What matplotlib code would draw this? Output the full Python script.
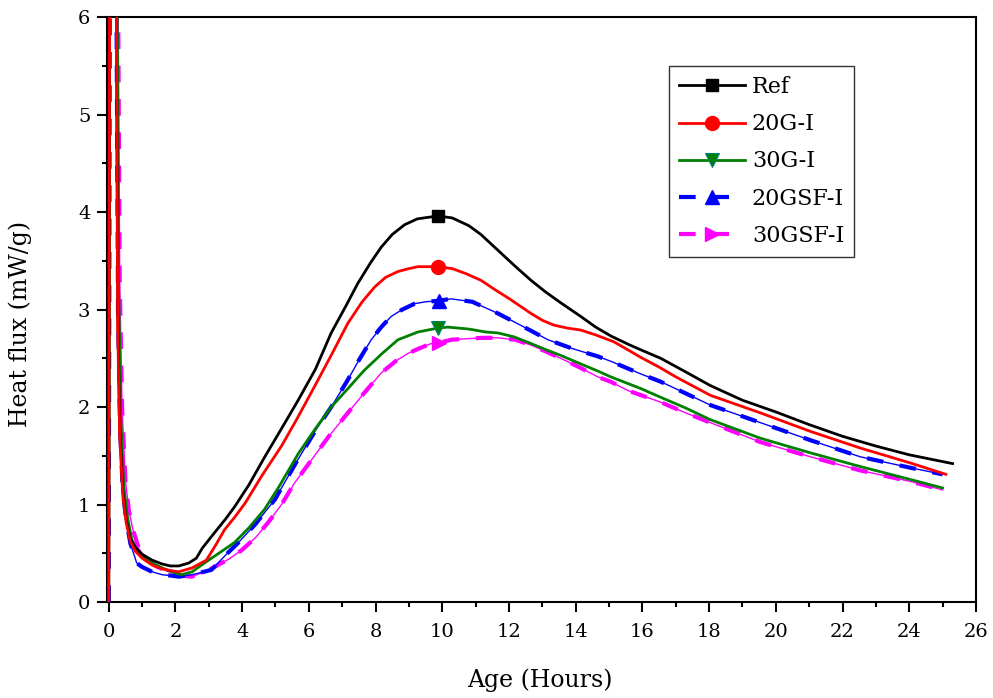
import numpy as np
import matplotlib
matplotlib.use("Agg")
from matplotlib import pyplot as plt
from matplotlib.ticker import MultipleLocator

# heat flow curves
ref_hours = [0, 0.03, 0.22, 0.27, 0.33, 0.42, 0.52, 0.65, 0.8, 1.0, 1.3, 1.6, 1.85, 2.1,
             2.4, 2.63, 2.8, 3.17, 3.5, 3.78, 4.2, 4.68, 5.2, 5.68, 6.2, 6.67, 7.1, 7.47,
             7.85, 8.17, 8.5, 8.87, 9.25, 9.66, 9.87, 10.3, 10.8, 11.16, 11.6, 12.2, 12.66,
             13.1, 13.55, 14.15, 14.6, 15.05, 15.6, 16.0, 16.55, 17.3, 18.04, 19.0, 20.0,
             21.0, 22.0, 23.0, 24.0, 25.3]
ref_flux = [0, 7, 7, 3.0, 1.8, 1.15, 0.85, 0.65, 0.56, 0.49, 0.43, 0.39, 0.37, 0.37,
            0.40, 0.45, 0.55, 0.71, 0.85, 0.98, 1.2, 1.49, 1.79, 2.07, 2.39, 2.76, 3.03, 3.27,
            3.48, 3.64, 3.77, 3.87, 3.93, 3.95, 3.96, 3.94, 3.86, 3.77, 3.63, 3.44, 3.30,
            3.18, 3.07, 2.93, 2.82, 2.73, 2.64, 2.58, 2.50, 2.36, 2.22, 2.07, 1.95,
            1.82, 1.70, 1.60, 1.51, 1.42]

g20_hours = [0, 0.03, 0.22, 0.27, 0.33, 0.42, 0.52, 0.65, 0.8, 1.0, 1.3, 1.6, 1.9, 2.1,
             2.5, 2.93, 3.2, 3.47, 3.8, 4.1, 4.6, 5.18, 5.63, 6.17, 6.7, 7.17, 7.6, 7.97,
             8.3, 8.67, 9.0, 9.27, 9.6, 9.87, 10.3, 10.7, 11.16, 11.6, 12.06, 12.66, 13.0,
             13.35, 13.75, 14.15, 14.6, 15.14, 15.55, 15.95, 16.5, 17.0, 18.04, 19.54,
             21.04, 22.53, 24.0, 25.1]
g20_flux = [0, 7, 7, 2.8, 1.7, 1.1, 0.82, 0.62, 0.52, 0.45, 0.38, 0.34, 0.32, 0.31,
            0.35, 0.43, 0.58, 0.74, 0.88, 1.02, 1.30, 1.60, 1.87, 2.21, 2.55, 2.86, 3.08, 3.23,
            3.33, 3.39, 3.42, 3.44, 3.44, 3.44, 3.42, 3.37, 3.30, 3.20, 3.10, 2.96, 2.89,
            2.84, 2.81, 2.79, 2.74, 2.67, 2.59, 2.51, 2.41, 2.31, 2.12, 1.94,
            1.75, 1.58, 1.43, 1.31]

g30_hours = [0, 0.03, 0.24, 0.3, 0.36, 0.45, 0.55, 0.69, 0.85, 1.0, 1.3, 1.6, 1.9, 2.18,
             2.5, 2.87, 3.3, 3.77, 4.2, 4.67, 5.1, 5.68, 6.2, 6.67, 7.2, 7.67, 8.2, 8.67,
             9.27, 9.87, 10.17, 10.8, 11.3, 11.67, 12.15, 12.6, 13.17, 13.55, 14.1, 14.66,
             15.05, 15.95, 16.55, 17.3, 18.04, 19.54, 21.04, 22.53, 24.0, 25.0]
g30_flux = [0, 7, 7, 3.2, 1.9, 1.2, 0.9, 0.64, 0.53, 0.47, 0.40, 0.35, 0.31, 0.28,
            0.31, 0.40, 0.50, 0.61, 0.76, 0.95, 1.18, 1.52, 1.78, 2.0, 2.2, 2.38, 2.55, 2.69,
            2.77, 2.81, 2.82, 2.80, 2.77, 2.76, 2.72, 2.66, 2.58, 2.53, 2.45, 2.37,
            2.31, 2.19, 2.10, 1.99, 1.87, 1.68, 1.53, 1.39, 1.26, 1.17]

gsf20_hours = [0, 0.03, 0.22, 0.28, 0.34, 0.42, 0.52, 0.65, 0.84, 1.0, 1.3, 1.6, 1.9, 2.1,
               2.5, 3.08, 3.5, 3.89, 4.4, 4.98, 5.6, 6.2, 6.67, 7.17, 7.5, 7.87, 8.17, 8.47,
               8.8, 9.17, 9.5, 9.89, 10.26, 10.9, 11.67, 12.4, 13.17, 13.9, 14.66, 15.05,
               15.95, 16.55, 17.3, 18.04, 19.54, 21.04, 22.53, 24.0, 25.0]
gsf20_flux = [0, 7, 7, 3.0, 1.8, 1.15, 0.85, 0.6, 0.40, 0.36, 0.31, 0.28, 0.27, 0.26,
              0.28, 0.33, 0.48, 0.61, 0.80, 1.05, 1.42, 1.76, 2.0, 2.28, 2.48, 2.69, 2.82, 2.93,
              3.0, 3.06, 3.08, 3.09, 3.11, 3.08, 2.96, 2.83, 2.69, 2.60, 2.52, 2.47,
              2.34, 2.26, 2.14, 2.02, 1.84, 1.66, 1.49, 1.38, 1.31]

gsf30_hours = [0, 0.03, 0.27, 0.33, 0.4, 0.5, 0.6, 0.72, 0.9, 1.1, 1.4, 1.8, 2.2, 2.48,
               2.8, 3.17, 3.6, 3.98, 4.4, 4.79, 5.18, 5.57, 6.17, 6.6, 7.17, 7.6, 8.17, 8.6,
               8.97, 9.3, 9.66, 9.9, 10.26, 10.7, 11.2, 11.67, 12.2, 12.7, 13.17, 13.55,
               14.1, 14.66, 15.05, 15.56, 16.55, 17.3, 18.04, 19.54, 21.04, 22.53, 24.0, 25.0]
gsf30_flux = [0, 7, 7, 3.3, 2.0, 1.25, 0.95, 0.75, 0.55, 0.45, 0.37, 0.31, 0.27, 0.26,
              0.30, 0.36, 0.44, 0.53, 0.66, 0.82, 1.0, 1.22, 1.50, 1.70, 1.94, 2.12, 2.35, 2.47,
              2.55, 2.60, 2.65, 2.66, 2.69, 2.70, 2.71, 2.71, 2.69, 2.63, 2.56, 2.50,
              2.41, 2.31, 2.26, 2.17, 2.05, 1.94, 1.84, 1.64, 1.49, 1.35, 1.24, 1.15]

marker_hour = 9.87

plt.rcParams['font.family'] = ['DejaVu Serif']


def mark_at(hours):
    # index of the point that carries the marker
    return [int(np.argmin(np.abs(np.array(hours) - marker_hour)))]


def main():
    fig = plt.figure(figsize=(9.93, 6.98), dpi=100)
    ax = fig.add_axes([0.1078, 0.1375, 0.875, 0.838])

    ax.plot(ref_hours, ref_flux, color='black', lw=2.0, marker='s', ms=9,
            markevery=mark_at(ref_hours), label='Ref', zorder=5)
    ax.plot(g20_hours, g20_flux, color='red', lw=2.0, marker='o', ms=10,
            markevery=mark_at(g20_hours), label='20G-I', zorder=5)
    ax.plot(g30_hours, g30_flux, color='green', lw=2.0, marker='v', ms=10,
            markerfacecolor='green', markeredgecolor='teal', markeredgewidth=0.8,
            markevery=mark_at(g30_hours), label='30G-I', zorder=4)

    # dashed series: thin base line with thick dashes on top
    ax.plot(gsf20_hours, gsf20_flux, color='blue', lw=1.0, zorder=3)
    ax.plot(gsf20_hours, gsf20_flux, color='blue', lw=3.0, ls=(0, (4, 4)),
            marker='^', ms=10, markevery=mark_at(gsf20_hours), label='20GSF-I', zorder=3)
    ax.plot(gsf30_hours, gsf30_flux, color='magenta', lw=1.0, zorder=2.5)
    ax.plot(gsf30_hours, gsf30_flux, color='magenta', lw=3.0, ls=(0, (4, 4)),
            marker='>', ms=10, markevery=mark_at(gsf30_hours), label='30GSF-I', zorder=2.5)

    ax.set_xlim(-0.05, 26)
    ax.set_ylim(0, 6)
    ax.xaxis.set_major_locator(MultipleLocator(2))
    ax.xaxis.set_minor_locator(MultipleLocator(1))
    ax.yaxis.set_major_locator(MultipleLocator(1))
    ax.yaxis.set_minor_locator(MultipleLocator(0.5))
    ax.tick_params(which='both', direction='out', width=1.5, top=False, right=False,
                   labelsize=14)
    ax.tick_params(which='major', length=7)
    ax.tick_params(which='minor', length=3.5)
    ax.tick_params(axis='x', pad=8)
    ax.tick_params(axis='y', pad=5)
    for s in ax.spines.values():
        s.set_linewidth(1.5)

    ax.set_xlabel('Age (Hours)', fontsize=17)
    ax.set_ylabel('Heat flux (mW/g)', fontsize=17)
    ax.xaxis.set_label_coords(0.498, -0.113)
    ax.yaxis.set_label_coords(-0.086, 0.475)

    leg = ax.legend(loc='upper right', bbox_to_anchor=(0.86, 0.916), borderaxespad=0,
                    fontsize=16, handlelength=3.0, handletextpad=0.3, labelspacing=0.68,
                    fancybox=False, frameon=True, numpoints=1, borderpad=0.45)
    leg.get_frame().set_edgecolor('black')
    leg.get_frame().set_linewidth(1.0)

    fig.savefig('out.png', dpi=100)


if __name__ == "__main__":
    main()
